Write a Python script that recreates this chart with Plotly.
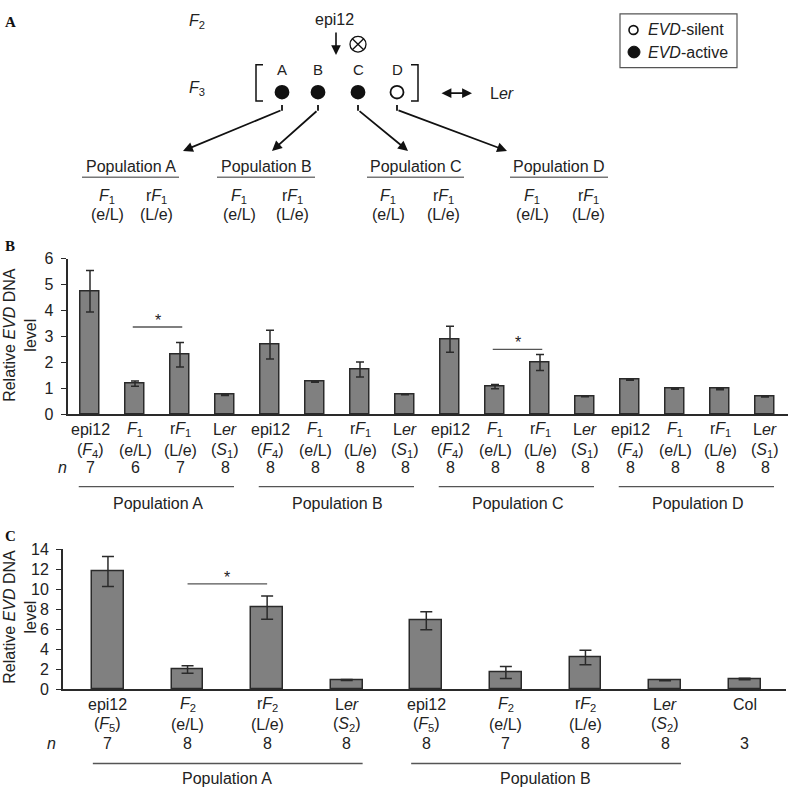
import plotly.graph_objects as go

W, H = 790, 796
FONT = "Liberation Sans, Arial, sans-serif"
TXT = "#222222"

# ---------------- data ----------------
b_row1 = ["epi12", "<i>F</i><sub>1</sub>", "r<i>F</i><sub>1</sub>", "L<i>er</i>"] * 4
b_row2 = ["(<i>F</i><sub>4</sub>)", "(e/L)", "(L/e)", "(<i>S</i><sub>1</sub>)"] * 4
b_n = [7, 6, 7, 8, 8, 8, 8, 8, 8, 8, 8, 8, 8, 8, 8, 8]
b_vals = [4.74, 1.18, 2.29, 0.74, 2.68, 1.26, 1.72, 0.77,
          2.89, 1.06, 1.99, 0.69, 1.33, 0.98, 0.97, 0.68]
b_err = [0.80, 0.10, 0.47, 0.02, 0.55, 0.03, 0.29, 0.02,
         0.50, 0.08, 0.31, 0.02, 0.02, 0.02, 0.03, 0.02]
b_groups = ["Population A", "Population B", "Population C", "Population D"]
b_sig = [(1, 2, 3.36), (9, 10, 2.5)]

c_row1 = ["epi12", "<i>F</i><sub>2</sub>", "r<i>F</i><sub>2</sub>", "L<i>er</i>"] * 2 + ["Col"]
c_row2 = ["(<i>F</i><sub>5</sub>)", "(e/L)", "(L/e)", "(<i>S</i><sub>2</sub>)"] * 2 + [""]
c_n = [7, 8, 8, 8, 8, 7, 8, 8, 3]
c_vals = [11.78, 1.96, 8.15, 0.91, 6.85, 1.66, 3.16, 0.88, 1.01]
c_err = [1.50, 0.38, 1.16, 0.05, 0.90, 0.60, 0.73, 0.05, 0.08]
c_groups = ["Population A", "Population B"]
c_sig = [(1, 2, 10.54)]

a_lines = ["A", "B", "C", "D"]
a_active = [True, True, True, False]
a_pops = ["Population A", "Population B", "Population C", "Population D"]


def px(x):
    return x / W


def py(y):
    return 1 - y / H


fig = go.Figure()

# ---------------- bars ----------------
fig.add_trace(go.Bar(
    x=list(range(len(b_vals))), y=b_vals, width=0.42,
    marker=dict(color="#808080", line=dict(color="#2a2a2a", width=1.5)),
    error_y=dict(type="data", array=b_err, color="#2a2a2a", thickness=1.5, width=4),
    xaxis="x", yaxis="y", showlegend=False, hoverinfo="skip"))

fig.add_trace(go.Bar(
    x=list(range(len(c_vals))), y=c_vals, width=0.40,
    marker=dict(color="#808080", line=dict(color="#2a2a2a", width=1.5)),
    error_y=dict(type="data", array=c_err, color="#2a2a2a", thickness=1.5, width=6),
    xaxis="x2", yaxis="y2", showlegend=False, hoverinfo="skip"))

axis_common = dict(showgrid=False, zeroline=False, showline=True, linecolor="#2a2a2a",
                   linewidth=1.8, tickfont=dict(family=FONT, size=16, color=TXT))

fig.update_layout(
    width=W, height=H, autosize=False,
    margin=dict(l=0, r=0, t=0, b=0),
    paper_bgcolor="white", plot_bgcolor="white",
    showlegend=False, bargap=0,
    xaxis=dict(domain=[px(67.5), px(787.5)], range=[-0.5, 15.5], showticklabels=False,
               ticks="", anchor="y", **axis_common),
    yaxis=dict(domain=[py(415), py(256)], range=[0, 6], dtick=1, ticks="outside",
               ticklen=5, tickcolor="#2a2a2a", ticklabelstandoff=4, anchor="x", **axis_common),
    xaxis2=dict(domain=[px(63), px(786)], range=[-0.565, 8.52], showticklabels=False,
                ticks="", anchor="y2", **axis_common),
    yaxis2=dict(domain=[py(696), py(553)], range=[0, 14], dtick=2, ticks="outside",
                ticklen=5, tickcolor="#2a2a2a", ticklabelstandoff=4, anchor="x2", **axis_common),
)

ann = []
shapes = []


def text(x, y, t, size=16, xref="paper", xanchor="center", color=TXT, family=FONT, **kw):
    ann.append(dict(x=x, y=y, xref=xref, yref="paper", text=t, showarrow=False,
                    xanchor=xanchor, yanchor="middle",
                    font=dict(family=family, size=size, color=color), **kw))


# ---------------- panel B labels ----------------
for i in range(len(b_vals)):
    text(i, py(431), b_row1[i], xref="x")
    text(i, py(452), b_row2[i], xref="x")
    text(i, py(470), str(b_n[i]), xref="x")
text(px(63), py(470), "<i>n</i>")
for g, name in enumerate(b_groups):
    s = g * 4
    shapes.append(dict(type="line", xref="x", yref="paper", x0=s - 0.25, x1=s + 3.2,
                       y0=py(489), y1=py(489), line=dict(color="#555555", width=1.3)))
    text(s + 1.5, py(506), name, xref="x")
for (i, j, v) in b_sig:
    shapes.append(dict(type="line", xref="x", yref="y", x0=i - 0.05, x1=j + 0.05,
                       y0=v, y1=v, line=dict(color="#555555", width=1.3)))
    ann.append(dict(x=(i + j) / 2, y=v, xref="x", yref="y", text="*", showarrow=False,
                    yanchor="bottom", yshift=-4, font=dict(family=FONT, size=16, color=TXT)))

# ---------------- panel C labels ----------------
for i in range(len(c_vals)):
    text(i, py(712), c_row1[i], xref="x2")
    if c_row2[i]:
        text(i, py(732), c_row2[i], xref="x2")
    text(i, py(752), str(c_n[i]), xref="x2")
text(px(51), py(752), "<i>n</i>")
for g, name in enumerate(c_groups):
    s = g * 4
    shapes.append(dict(type="line", xref="x2", yref="paper", x0=s - 0.19, x1=s + 3.2,
                       y0=py(772), y1=py(772), line=dict(color="#555555", width=1.3)))
    text(s + 1.5, py(787), name, xref="x2")
for (i, j, v) in c_sig:
    shapes.append(dict(type="line", xref="x2", yref="y2", x0=i, x1=j,
                       y0=v, y1=v, line=dict(color="#555555", width=1.3)))
    ann.append(dict(x=(i + j) / 2, y=v, xref="x2", yref="y2", text="*", showarrow=False,
                    yanchor="bottom", yshift=-4, font=dict(family=FONT, size=16, color=TXT)))

# y axis titles
for cy in (334, 622):
    ann.append(dict(x=px(20), y=py(cy), xref="paper", yref="paper",
                    text="Relative <i>EVD</i> DNA<br>level", textangle=-90, showarrow=False,
                    xanchor="center", yanchor="middle",
                    font=dict(family=FONT, size=16, color=TXT)))

# panel letters
for lab, y in (("A", 14), ("B", 243), ("C", 540)):
    text(px(3), py(y), "<b>%s</b>" % lab, size=15, xanchor="left",
         family="Liberation Serif, DejaVu Serif, serif", color="#111111")

# ---------------- panel A diagram ----------------
text(px(197), py(14), "<i>F</i><sub>2</sub>")
text(px(197), py(82), "<i>F</i><sub>3</sub>")
text(px(334), py(12), "epi12")
ann.append(dict(x=px(336), y=py(48), xref="paper", yref="paper", text="", showarrow=True,
                ax=0, ay=-24, arrowhead=2, arrowsize=1.2, arrowwidth=1.6, arrowcolor="#111"))
# selfing symbol
cx, cy, r = 358, 37, 8
shapes.append(dict(type="circle", xref="paper", yref="paper", x0=px(cx - r), x1=px(cx + r),
                   y0=py(cy + r), y1=py(cy - r), line=dict(color="#111", width=1.3)))
d = r * 0.707
shapes.append(dict(type="line", xref="paper", yref="paper", x0=px(cx - d), x1=px(cx + d),
                   y0=py(cy - d), y1=py(cy + d), line=dict(color="#111", width=1.3)))
shapes.append(dict(type="line", xref="paper", yref="paper", x0=px(cx - d), x1=px(cx + d),
                   y0=py(cy + d), y1=py(cy - d), line=dict(color="#111", width=1.3)))
# brackets
for path in ("M %f,%f L %f,%f L %f,%f L %f,%f" % (px(263), py(58), px(256), py(58), px(256), py(95), px(263), py(95)),
             "M %f,%f L %f,%f L %f,%f L %f,%f" % (px(411), py(58), px(418), py(58), px(418), py(95), px(411), py(95))):
    shapes.append(dict(type="path", xref="paper", yref="paper", path=path,
                       line=dict(color="#111", width=1.5)))
line_x = [282, 318, 358, 397]
heads = [(183, 146), (272, 146), (408, 146), (507, 146)]
for k, lab in enumerate(a_lines):
    x = line_x[k]
    text(px(x), py(63), lab, size=15)
    rr = 6.5
    shapes.append(dict(type="circle", xref="paper", yref="paper", x0=px(x - rr), x1=px(x + rr),
                       y0=py(86 + rr), y1=py(86 - rr),
                       fillcolor="#111" if a_active[k] else "white",
                       line=dict(color="#111", width=1.8)))
    shapes.append(dict(type="line", xref="paper", yref="paper", x0=px(x), x1=px(x),
                       y0=py(99), y1=py(105), line=dict(color="#111", width=1.8)))
    hx, hy = heads[k]
    ann.append(dict(x=px(hx), y=py(hy), xref="paper", yref="paper", text="", showarrow=True,
                    ax=x - hx, ay=105 - hy, arrowhead=2, arrowsize=1.1, arrowwidth=1.8,
                    arrowcolor="#111"))
ann.append(dict(x=px(472), y=py(87), xref="paper", yref="paper", text="", showarrow=True,
                ax=-32, ay=0, arrowhead=2, startarrowhead=2, arrowside="end+start",
                arrowsize=1.1, startarrowsize=1.1, arrowwidth=1.8, arrowcolor="#111"))
text(px(502), py(87), "L<i>er</i>")

pop_cx = [131, 266, 416, 559]
pop_ul = [(82, 179), (217, 315), (367, 464), (510, 608)]
f1_x = [(107, 156), (239, 292), (388, 443), (532, 588)]
for k, name in enumerate(a_pops):
    text(px(pop_cx[k]), py(162), name)
    x0, x1 = pop_ul[k]
    shapes.append(dict(type="line", xref="paper", yref="paper", x0=px(x0), x1=px(x1),
                       y0=py(173), y1=py(173), line=dict(color="#777777", width=1.6)))
    a, b = f1_x[k]
    text(px(a), py(193), "<i>F</i><sub>1</sub>")
    text(px(b), py(193), "r<i>F</i><sub>1</sub>")
    text(px(a), py(211), "(e/L)")
    text(px(b), py(211), "(L/e)")

# legend box
shapes.append(dict(type="rect", xref="paper", yref="paper", x0=px(620), x1=px(737),
                   y0=py(61), y1=py(6), line=dict(color="#555", width=1.2)))
shapes.append(dict(type="circle", xref="paper", yref="paper", x0=px(629), x1=px(638),
                   y0=py(27), y1=py(18), line=dict(color="#111", width=1.6)))
shapes.append(dict(type="circle", xref="paper", yref="paper", x0=px(628), x1=px(640),
                   y0=py(51), y1=py(39), fillcolor="#111", line=dict(color="#111", width=1)))
text(px(646), py(22), "<i>EVD</i>-silent", xanchor="left")
text(px(646), py(45), "<i>EVD</i>-active", xanchor="left")

fig.update_layout(annotations=ann, shapes=shapes)
fig.write_html("out.html", config={"displayModeBar": False},
               post_script="document.body.style.margin='0';document.body.style.overflow='hidden';")
